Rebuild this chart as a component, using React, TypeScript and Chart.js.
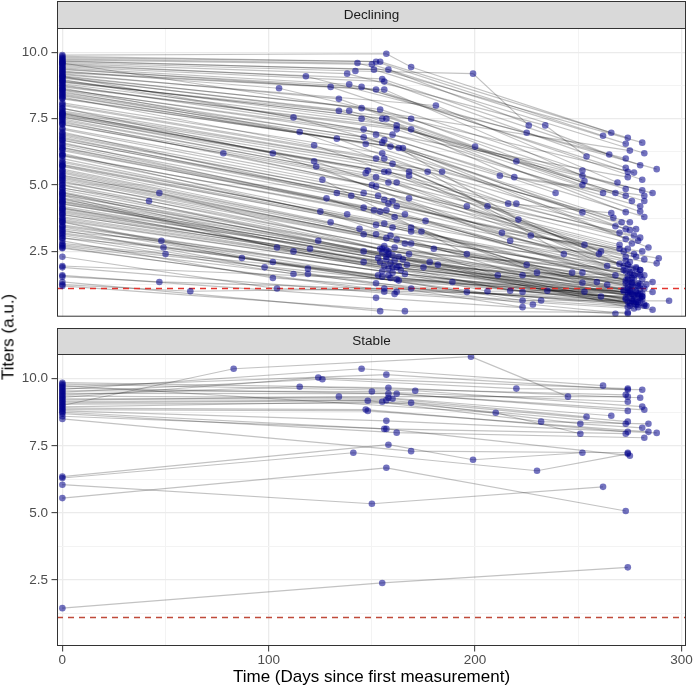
import React, { useEffect, useRef } from 'react';
import { Chart, registerables } from 'chart.js';

Chart.register(...registerables);

const FONT = "'Liberation Sans', Arial, Helvetica, sans-serif";

const panelLabels = ['Declining', 'Stable'];
const xAxisTitle = 'Time (Days since first measurement)';
const yAxisTitle = 'Titers (a.u.)';
const xMajorTicks = [0, 100, 200, 300];
const xMinorTicks = [50, 150, 250];
const yMajorTicks = [2.5, 5, 7.5, 10];
const yMinorTicks = [1.25, 3.75, 6.25, 8.75];
const yTickLabels = ['2.5', '5.0', '7.5', '10.0'];
const xRange = [-2.6, 302.2];
const yRange = [0.04, 10.92];
const thresholdValue = 1.1;

// Each row: one subject, flat pairs [day, titer, day, titer, ...]
const decliningHigh: number[][] = [
  [0, 9.9, 157, 9.95, 169, 9.45, 266, 6.97],
  [0, 9.85, 152, 9.65, 262, 6.86],
  [0, 9.8, 154, 9.65, 274, 6.78],
  [0, 9.76, 143, 9.6, 281, 6.6],
  [0, 9.72, 150, 9.55, 273, 6.56],
  [0, 9.68, 151, 9.35, 282, 6.2],
  [0, 9.66, 158, 9.35, 265, 6.15],
  [0, 9.62, 142, 9.3, 199, 9.2, 226, 7.25],
  [0, 9.58, 138, 9.2, 234, 7.25, 254, 6.08],
  [0, 9.55, 118, 9.1, 225, 6.97, 273, 6.0],
  [0, 9.6, 275, 6.3],
  [0, 9.5, 155, 9.0, 280, 5.75],
  [0, 9.46, 156, 8.9, 273, 5.65],
  [0, 9.42, 139, 8.8, 288, 5.6],
  [0, 9.38, 130, 8.7, 252, 5.55],
  [0, 9.35, 145, 8.7, 274, 5.5],
  [0, 9.3, 105, 8.65, 277, 5.47],
  [0, 9.27, 156, 8.6, 252, 5.35],
  [0, 9.24, 152, 8.6, 281, 5.2],
  [0, 9.2, 134, 8.25, 200, 6.45, 253, 5.15],
  [0, 9.16, 181, 8.0, 269, 5.1],
  [0, 9.12, 145, 7.9, 252, 5.0],
  [0, 9.1, 274, 5.3],
  [0, 9.09, 154, 7.85, 273, 4.85],
  [0, 9.06, 134, 7.8, 220, 5.9, 281, 4.8],
  [0, 9.03, 139, 7.8, 262, 4.7],
  [0, 8.98, 112, 7.55, 212, 5.35, 268, 4.7],
  [0, 8.95, 145, 7.5, 286, 4.7],
  [0, 8.92, 155, 7.5, 273, 4.6],
  [0, 8.9, 157, 7.5, 219, 5.3, 282, 4.6],
  [0, 8.87, 169, 7.5, 276, 4.4],
  [0, 8.82, 162, 7.25, 282, 4.4],
  [0, 8.78, 146, 7.1, 239, 4.7],
  [0, 8.74, 162, 7.1, 280, 4.0],
  [0, 8.7, 169, 7.1, 273, 3.98],
  [0, 8.66, 115, 7.0, 216, 4.3, 266, 3.95],
  [0, 8.62, 152, 6.9, 282, 3.8],
  [0, 8.6, 160, 6.9, 280, 4.2],
  [0, 8.57, 146, 6.8, 267, 3.77],
  [0, 8.52, 133, 6.75, 220, 4.3, 268, 3.45],
  [0, 8.48, 156, 6.7, 273, 3.34],
  [0, 8.44, 155, 6.6, 278, 3.34],
  [0, 8.4, 147, 6.55, 252, 3.97],
  [0, 8.36, 159, 6.45, 273, 2.97],
  [0, 8.32, 122, 6.5, 206, 4.2, 280, 3.02],
  [0, 8.28, 163, 6.4, 221, 3.7, 270, 2.75],
  [0, 8.25, 165, 6.4, 284, 2.65],
  [0, 8.1, 155, 6.2, 271, 3.6],
  [0, 8.04, 156, 6.0, 275, 3.3],
  [0, 8.0, 152, 6.0, 261, 2.5],
  [0, 7.9, 102, 6.2, 213, 3.2, 281, 2.5],
  [0, 7.88, 160, 5.8, 260, 2.4],
  [0, 7.8, 184, 5.5, 275, 3.6],
  [0, 7.75, 177, 5.5, 243, 2.4],
  [0, 7.72, 148, 5.55, 277, 3.1],
  [0, 7.7, 122, 5.9, 227, 3.1, 289, 2.24],
  [0, 7.68, 168, 5.5, 270, 2.03],
  [0, 7.65, 156, 5.5, 273, 2.15],
  [0, 7.62, 158, 5.5, 270, 3.2],
  [0, 7.58, 147, 5.45, 279, 2.9],
  [0, 7.55, 168, 5.35, 264, 1.95],
  [0, 7.5, 123, 5.7, 217, 2.9, 288, 2.05],
];

const decliningMid: number[][] = [
  [0, 7.45, 152, 5.3, 272, 1.95],
  [0, 7.4, 150, 5.0, 270, 2.6],
  [0, 7.35, 162, 5.1, 275, 1.9],
  [0, 7.3, 78, 6.2, 196, 4.2, 253, 2.75],
  [0, 7.28, 158, 5.1, 276, 2.8],
  [0, 7.15, 152, 4.95, 274, 2.6],
  [0, 7.1, 126, 5.2, 196, 2.4, 247, 1.7],
  [0, 7.0, 158, 4.3, 278, 2.3],
  [0, 6.95, 168, 4.5, 277, 2.4],
  [0, 6.9, 146, 4.7, 272, 2.5],
  [0, 6.85, 153, 4.6, 280, 1.8],
  [0, 6.8, 140, 4.6, 273, 2.3],
  [0, 6.75, 156, 4.45, 273, 1.75],
  [0, 6.7, 133, 4.7, 278, 1.85],
  [0, 6.68, 160, 4.4, 279, 1.65],
  [0, 6.6, 154, 4.0, 275, 2.1],
  [0, 6.55, 162, 4.2, 282, 2.2],
  [0, 6.5, 128, 4.5, 225, 2.0, 252, 1.7],
  [0, 6.42, 157, 4.05, 268, 1.6],
  [0, 6.4, 146, 4.15, 230, 1.7, 277, 1.6],
  [0, 6.35, 151, 4.05, 282, 1.6],
  [0, 6.3, 166, 3.9, 274, 1.55],
  [0, 6.2, 152, 3.5, 272, 1.8],
  [0, 6.15, 161, 3.8, 281, 1.45],
  [0, 6.12, 176, 3.65, 276, 1.35],
  [0, 6.1, 138, 3.9, 274, 2.0],
  [0, 6.0, 125, 4.0, 223, 1.6, 277, 1.5],
  [0, 5.9, 156, 3.55, 273, 1.4],
  [0, 5.85, 169, 3.4, 252, 1.32],
  [0, 5.78, 174, 3.25, 283, 1.25],
  [0, 5.75, 160, 3.4, 259, 1.35],
  [0, 5.72, 169, 3.25, 279, 1.3],
  [0, 5.7, 130, 3.6, 211, 1.6, 286, 1.35],
  [0, 5.6, 144, 3.35, 278, 1.9],
  [0, 5.55, 159, 3.1, 280, 1.6],
  [0, 5.5, 152, 3.15, 275, 1.7],
  [0, 5.45, 146, 3.15, 280, 1.25],
  [0, 5.38, 157, 3.0, 264, 1.24],
  [0, 5.35, 47, 4.7, 158, 2.5, 280, 1.8],
  [0, 5.3, 162, 2.95, 274, 1.2],
  [0, 5.25, 169, 2.8, 276, 1.5],
  [0, 5.2, 166, 2.8, 280, 1.1],
  [0, 5.15, 156, 2.7, 276, 1.3],
  [0, 5.1, 180, 2.6, 281, 0.9],
  [0, 5.02, 161, 2.65, 276, 0.9],
  [0, 5.0, 124, 2.9, 235, 1.02, 277, 1.15],
  [0, 4.9, 154, 2.6, 275, 1.0],
  [0, 4.88, 42, 4.4, 155, 2.6, 276, 1.7],
  [0, 4.82, 157, 2.55, 274, 0.85],
  [0, 4.75, 146, 2.5, 261, 0.8],
  [0, 4.72, 120, 2.6, 217, 1.02, 278, 0.95],
  [0, 4.7, 168, 2.4, 276, 1.25],
  [0, 4.65, 155, 2.45, 273, 1.3],
  [0, 4.62, 158, 2.4, 280, 0.75],
  [0, 4.6, 104, 2.65, 206, 1.0, 272, 1.05],
  [0, 4.52, 160, 2.35, 273, 0.7],
  [0, 4.5, 112, 2.5, 223, 0.97, 277, 0.8],
  [0, 4.45, 163, 2.3, 279, 1.2],
  [0, 4.4, 157, 2.3, 274, 1.1],
];

const decliningLow: number[][] = [
  [0, 4.38, 165, 2.2, 275, 1.05],
  [0, 4.35, 153, 2.25, 282, 1.1],
  [0, 4.3, 157, 2.2, 279, 0.6],
  [0, 4.28, 178, 2.1, 278, 0.5],
  [0, 4.2, 161, 2.15, 275, 0.55],
  [0, 4.15, 146, 2.1, 274, 1.45],
  [0, 4.12, 182, 2.0, 274, 0.4],
  [0, 4.1, 154, 2.1, 278, 1.0],
  [0, 4.05, 159, 2.05, 282, 0.45],
  [0, 4.0, 167, 2.0, 274, 0.95],
  [0, 3.95, 163, 1.95, 286, 0.97],
  [0, 3.9, 156, 1.95, 280, 0.9],
  [0, 3.88, 175, 1.9, 286, 0.3],
  [0, 3.8, 162, 1.9, 277, 0.85],
  [0, 3.75, 160, 1.9, 279, 0.9],
  [0, 3.7, 158, 1.85, 281, 0.8],
  [0, 3.65, 164, 1.8, 273, 0.75],
  [0, 3.62, 102, 2.1, 223, 0.65, 294, 0.64],
  [0, 3.6, 87, 2.25, 196, 0.97, 276, 0.65],
  [0, 3.5, 155, 1.75, 276, 0.7],
  [0, 3.45, 160, 1.7, 280, 0.65],
  [0, 3.42, 119, 1.85, 232, 0.65],
  [0, 3.35, 166, 1.65, 274, 0.6],
  [0, 3.3, 98, 1.9, 228, 0.5, 274, 0.15],
  [0, 3.25, 48, 2.9, 159, 1.5, 272, 1.0],
  [0, 3.2, 153, 1.6, 277, 0.55],
  [0, 3.15, 155, 1.55, 281, 0.7],
  [0, 3.1, 119, 1.65, 223, 0.4],
  [0, 3.02, 112, 1.65, 253, 0.98],
  [0, 3.0, 49, 2.65, 162, 1.45, 279, 0.85],
  [0, 2.9, 102, 1.5, 279, 0.5],
  [0, 2.8, 50, 2.4, 158, 1.6, 275, 0.95],
  [0, 2.75, 163, 1.4, 277, 0.65],
  [0, 2.7, 152, 1.3, 275, 0.45],
  [0, 2.65, 156, 0.98, 279, 0.4],
  [0, 2.62, 162, 0.98],
  [0, 2.3, 104, 1.1, 281, 0.8],
  [0, 1.95, 189, 1.35, 283, 0.45],
  [0, 1.9, 161, 0.9, 277, 0.35],
  [0, 1.6, 152, 0.75, 268, 0.15],
  [0, 1.55, 47, 1.35, 156, 1.1, 278, 0.6],
  [0, 1.35, 154, 0.25],
  [0, 1.25, 62, 1.0, 169, 1.1, 282, 0.5],
  [0, 1.2, 166, 0.25, 274, 0.2],
];

const stableSubjects: number[][] = [
  [0, 9.0, 83, 10.37, 198, 10.82, 245, 9.33],
  [0, 9.6, 145, 10.37, 262, 9.74],
  [0, 9.3, 124, 10.04, 274, 9.63],
  [0, 9.5, 126, 9.98, 220, 9.63, 281, 9.59],
  [0, 9.7, 157, 10.15, 274, 9.59],
  [0, 9.4, 115, 9.7, 273, 9.4],
  [0, 9.2, 134, 9.33, 274, 9.33],
  [0, 9.85, 158, 9.66, 280, 9.29],
  [0, 9.8, 171, 9.55, 281, 8.96],
  [0, 9.55, 150, 9.52, 274, 9.14],
  [0, 9.45, 158, 9.44, 282, 8.84],
  [0, 9.65, 162, 9.44, 274, 8.8],
  [0, 9.35, 158, 9.29, 266, 8.62],
  [0, 9.25, 160, 9.25, 254, 8.58],
  [0, 9.15, 157, 9.2, 274, 8.4],
  [0, 9.1, 148, 9.18, 232, 8.4, 284, 8.32],
  [0, 8.95, 155, 9.14, 273, 8.32],
  [0, 9.05, 169, 9.1, 251, 8.32, 281, 8.17],
  [0, 8.9, 147, 8.85, 274, 8.02],
  [0, 8.85, 148, 8.8, 284, 8.02],
  [0, 8.8, 157, 8.43, 288, 7.98],
  [0, 8.75, 156, 8.13, 273, 7.95],
  [0, 8.7, 162, 7.99, 282, 7.8],
  [0, 9.75, 210, 8.73, 251, 7.95],
  [0, 8.6, 157, 8.13, 275, 7.13],
  [0, 8.5, 169, 7.3, 274, 7.24],
  [0, 6.35, 158, 7.54, 199, 6.98, 252, 7.24],
  [0, 6.3, 141, 7.24, 230, 6.57, 274, 7.2],
  [0, 5.55, 157, 6.68, 273, 5.07],
  [0, 6.05, 150, 5.34, 262, 5.97],
  [0, 1.45, 155, 2.39, 274, 2.97],
];

type Pt = { x: number; y: number };

function toPoints(row: number[]): Pt[] {
  const pts: Pt[] = [];
  for (let i = 0; i + 1 < row.length; i += 2) pts.push({ x: row[i], y: row[i + 1] });
  return pts;
}

const near = (arr: number[], v: number | undefined) =>
  v !== undefined && arr.some((a) => Math.abs(a - v) < 1e-6);

const panelPlugin = {
  id: 'panelDecor',
  afterDraw(chart: any, _args: any, o: any) {
    const { ctx, chartArea: a } = chart;
    ctx.save();
    const sTop = a.top - o.stripH;
    ctx.fillStyle = '#d9d9d9';
    ctx.fillRect(a.left, sTop, a.right - a.left, o.stripH);
    ctx.strokeStyle = '#333333';
    ctx.lineWidth = 1;
    ctx.strokeRect(a.left + 0.5, sTop + 0.5, a.right - a.left - 1, o.stripH);
    ctx.fillStyle = '#1a1a1a';
    ctx.font = `13.5px ${FONT}`;
    ctx.textAlign = 'center';
    ctx.textBaseline = 'middle';
    ctx.fillText(o.label, (a.left + a.right) / 2, sTop + o.stripH / 2 + 0.5);
    ctx.strokeStyle = '#333333';
    ctx.strokeRect(a.left + 0.5, a.top + 0.5, a.right - a.left - 1, a.bottom - a.top - 1);
    ctx.restore();
  },
};

function buildConfig(
  rows: number[][],
  o: { showX: boolean; padTop: number; padBottom: number; stripH: number; label: string; thresholdColor: string }
): any {
  const series = rows.map(toPoints);
  const allPts = series.flat();
  const datasets: any[] = series.map((pts) => ({
    data: pts,
    showLine: true,
    borderColor: 'rgba(0,0,0,0.24)',
    borderWidth: 1.2,
    pointRadius: 0,
    pointHoverRadius: 0,
    tension: 0,
    order: 2,
  }));
  datasets.push({
    data: [
      { x: xRange[0], y: thresholdValue },
      { x: xRange[1], y: thresholdValue },
    ],
    showLine: true,
    borderColor: o.thresholdColor,
    borderWidth: 1.5,
    borderDash: [6, 5],
    pointRadius: 0,
    order: 1,
  });
  datasets.push({
    data: allPts,
    showLine: false,
    pointRadius: 3.3,
    pointHoverRadius: 3.3,
    pointBackgroundColor: 'rgba(0,0,139,0.55)',
    pointBorderColor: 'rgba(0,0,0,0)',
    pointBorderWidth: 0,
    order: 0,
  });

  return {
    type: 'scatter',
    data: { datasets },
    plugins: [panelPlugin],
    options: {
      responsive: false,
      animation: false,
      events: [],
      layout: { padding: { top: o.padTop, bottom: o.padBottom, left: 0, right: 7 } },
      plugins: {
        legend: { display: false },
        tooltip: { enabled: false },
        panelDecor: { label: o.label, stripH: o.stripH },
      },
      scales: {
        x: {
          type: 'linear',
          min: xRange[0],
          max: xRange[1],
          bounds: 'data',
          afterBuildTicks: (s: any) => {
            s.ticks = [...xMajorTicks, ...xMinorTicks].sort((p, q) => p - q).map((v) => ({ value: v }));
          },
          afterFit: (s: any) => {
            s.height = o.showX ? 43 : 0;
            s.paddingLeft = 0;
            s.paddingRight = 0;
            s.paddingTop = 0;
            s.paddingBottom = 0;
          },
          ticks: {
            display: o.showX,
            autoSkip: false,
            maxRotation: 0,
            minRotation: 0,
            padding: 1,
            color: '#4d4d4d',
            font: { family: FONT, size: 13.5 },
            callback: (v: number) => (near(xMajorTicks, v) ? String(v) : ''),
          },
          grid: {
            color: (c: any) => (near(xMajorTicks, c.tick?.value) ? '#ebebeb' : '#f3f3f3'),
            lineWidth: (c: any) => (near(xMajorTicks, c.tick?.value) ? 1.3 : 1),
            drawTicks: o.showX,
            tickLength: 5.5,
            tickColor: (c: any) => (near(xMajorTicks, c.tick?.value) ? '#333333' : 'rgba(0,0,0,0)'),
            tickWidth: 1,
          },
          border: { display: false },
          title: {
            display: o.showX,
            text: xAxisTitle,
            color: '#000000',
            font: { family: FONT, size: 17 },
            padding: { top: 0, bottom: 1 },
          },
        },
        y: {
          type: 'linear',
          min: yRange[0],
          max: yRange[1],
          bounds: 'data',
          afterBuildTicks: (s: any) => {
            s.ticks = [...yMajorTicks, ...yMinorTicks].sort((p, q) => p - q).map((v) => ({ value: v }));
          },
          afterFit: (s: any) => {
            s.width = 57;
            s.paddingTop = 0;
            s.paddingBottom = 0;
            s.paddingLeft = 0;
            s.paddingRight = 0;
          },
          ticks: {
            autoSkip: false,
            padding: 3.5,
            color: '#4d4d4d',
            font: { family: FONT, size: 13.5 },
            callback: (v: number) => {
              const i = yMajorTicks.findIndex((t) => Math.abs(t - v) < 1e-6);
              return i >= 0 ? yTickLabels[i] : '';
            },
          },
          grid: {
            color: (c: any) => (near(yMajorTicks, c.tick?.value) ? '#ebebeb' : '#f3f3f3'),
            lineWidth: (c: any) => (near(yMajorTicks, c.tick?.value) ? 1.3 : 1),
            drawTicks: true,
            tickLength: 5.5,
            tickColor: (c: any) => (near(yMajorTicks, c.tick?.value) ? '#333333' : 'rgba(0,0,0,0)'),
            tickWidth: 1,
          },
          border: { display: false },
        },
      },
    },
  };
}

export default function App() {
  const topRef = useRef<HTMLCanvasElement>(null);
  const bottomRef = useRef<HTMLCanvasElement>(null);

  useEffect(() => {
    const top = new Chart(
      topRef.current as HTMLCanvasElement,
      buildConfig([...decliningHigh, ...decliningMid, ...decliningLow], {
        showX: false,
        padTop: 28,
        padBottom: 2,
        stripH: 27,
        label: panelLabels[0],
        thresholdColor: '#e3342f',
      })
    );
    const bottom = new Chart(
      bottomRef.current as HTMLCanvasElement,
      buildConfig(stableSubjects, {
        showX: true,
        padTop: 34,
        padBottom: 0,
        stripH: 26,
        label: panelLabels[1],
        thresholdColor: '#c04a3a',
      })
    );
    return () => {
      top.destroy();
      bottom.destroy();
    };
  }, []);

  return (
    <div
      style={{
        position: 'absolute',
        left: 0,
        top: 0,
        width: 693,
        height: 689,
        background: '#ffffff',
        overflow: 'hidden',
      }}
    >
      <canvas
        ref={topRef}
        width={693}
        height={320}
        style={{ position: 'absolute', left: 0, top: 0, width: 693, height: 320 }}
      />
      <canvas
        ref={bottomRef}
        width={693}
        height={369}
        style={{ position: 'absolute', left: 0, top: 320, width: 693, height: 369 }}
      />
      <div
        style={{
          position: 'absolute',
          left: 7.5,
          top: 337,
          transform: 'translate(-50%, -50%) rotate(-90deg)',
          fontFamily: FONT,
          fontSize: 17,
          lineHeight: 1,
          color: '#000000',
          whiteSpace: 'nowrap',
        }}
      >
        {yAxisTitle}
      </div>
    </div>
  );
}
